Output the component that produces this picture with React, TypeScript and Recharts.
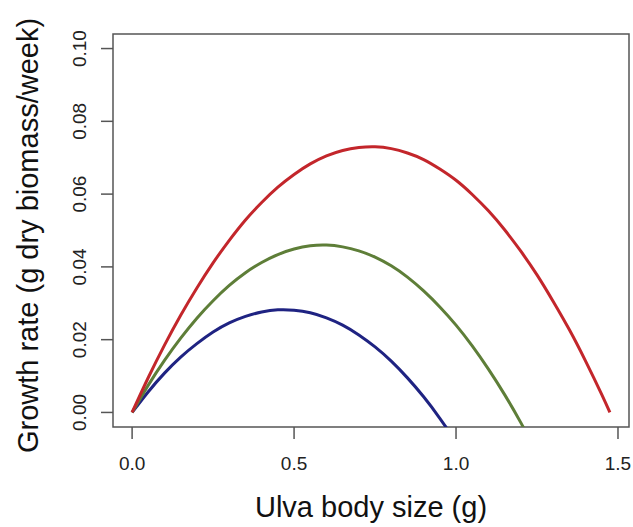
import React from "react";
import {
    LineChart, Line, XAxis, YAxis, ReferenceArea, Label,
} from "recharts";

// body size (g)
const sizes = [
    0, 0.05, 0.1, 0.15, 0.2, 0.25, 0.3, 0.35, 0.4, 0.45, 0.5, 0.55, 0.6, 0.65, 0.7, 0.75,
    0.8, 0.85, 0.9, 0.95, 1.0, 1.05, 1.1, 1.15, 1.2, 1.25, 1.3, 1.35, 1.4, 1.45, 1.475,
];

// growth rate, one array per curve (null = not drawn)
const redRate = [
    0, 0.0096, 0.0185, 0.0267, 0.0342, 0.0411, 0.0473, 0.0529, 0.0577, 0.0619, 0.0654,
    0.0683, 0.0705, 0.072, 0.0728, 0.073, 0.0725, 0.0713, 0.0695, 0.0669, 0.0638, 0.0599,
    0.0554, 0.0502, 0.0443, 0.0378, 0.0305, 0.0227, 0.0141, 0.0049, 0,
];
const greenRate = [
    0, 0.0075, 0.0143, 0.0204, 0.0259, 0.0307, 0.0349, 0.0384, 0.0412, 0.0434, 0.0449,
    0.0458, 0.046, 0.0455, 0.0444, 0.0427, 0.0403, 0.0372, 0.0334, 0.029, 0.024, 0.0183,
    0.0119, 0.0049, -0.0028, -0.0112, null, null, null, null, null,
];
const blueRate = [
    0, 0.0057, 0.0108, 0.0152, 0.0189, 0.0221, 0.0246, 0.0264, 0.0276, 0.0282, 0.0281,
    0.0274, 0.026, 0.024, 0.0213, 0.018, 0.0141, 0.0095, 0.0043, -0.0016, -0.0081,
    null, null, null, null, null, null, null, null, null, null,
];

const xTicks = [0, 0.5, 1.0, 1.5];
const yTicks = [0, 0.02, 0.04, 0.06, 0.08, 0.1];
const xDomain = [-0.059, 1.534];
const yDomain = [-0.004, 0.104];

const data = sizes.map((x, i) => ({
    x, red: redRate[i], green: greenRate[i], blue: blueRate[i],
}));

const FONT = "'Liberation Sans', Arial, Helvetica, sans-serif";
const AXIS = "#555";

const YTick = (props: any) => {
    const { x, y, payload } = props;
    return (
        <text x={x} y={y} transform={`rotate(-90, ${x}, ${y})`} textAnchor="middle"
              fontSize={19} fill="#222" fontFamily={FONT}>
            {payload.value.toFixed(2)}
        </text>
    );
};

export default function App() {
    return (
        <div style={{ position: "absolute", left: 0, top: 0, width: 633, height: 527, background: "#fff" }}>
            <LineChart width={633} height={527} data={data}
                       margin={{ top: 34, right: 4, left: 0, bottom: 0 }}>
                <XAxis type="number" dataKey="x" domain={xDomain} allowDataOverflow
                       ticks={xTicks} tickFormatter={(v: number) => v.toFixed(1)}
                       height={100} axisLine={false} tickSize={12} tickMargin={18}
                       tickLine={{ stroke: AXIS, strokeWidth: 1.5 }}
                       tick={{ fontSize: 19, fill: "#222", fontFamily: FONT }}>
                    <Label content={({ viewBox }: any) => (
                        <text x={viewBox.x + viewBox.width / 2} y={viewBox.y + 90} textAnchor="middle"
                              fontSize={29} fill="#111" fontFamily={FONT}>
                            Ulva body size (g)
                        </text>
                    )} />
                </XAxis>
                <YAxis type="number" domain={yDomain} allowDataOverflow ticks={yTicks}
                       width={113} axisLine={false} tickSize={12} tickMargin={15}
                       tickLine={{ stroke: AXIS, strokeWidth: 1.5 }} tick={<YTick />}>
                    <Label content={({ viewBox }: any) => {
                        const cx = 38;
                        const cy = viewBox.y + viewBox.height / 2 + 5;
                        return (
                            <text x={cx} y={cy} transform={`rotate(-90, ${cx}, ${cy})`} textAnchor="middle"
                                  fontSize={29} fill="#111" fontFamily={FONT}>
                                Growth rate (g dry biomass/week)
                            </text>
                        );
                    }} />
                </YAxis>
                <ReferenceArea x1={xDomain[0]} x2={xDomain[1]} y1={yDomain[0]} y2={yDomain[1]}
                               fill="none" stroke={AXIS} strokeWidth={1.5} ifOverflow="visible" />
                <Line type="natural" dataKey="blue" stroke="#1f2382" strokeWidth={3}
                      dot={false} isAnimationActive={false} />
                <Line type="natural" dataKey="green" stroke="#5e7e38" strokeWidth={3}
                      dot={false} isAnimationActive={false} />
                <Line type="natural" dataKey="red" stroke="#c3262b" strokeWidth={3}
                      dot={false} isAnimationActive={false} />
            </LineChart>
        </div>
    );
}
